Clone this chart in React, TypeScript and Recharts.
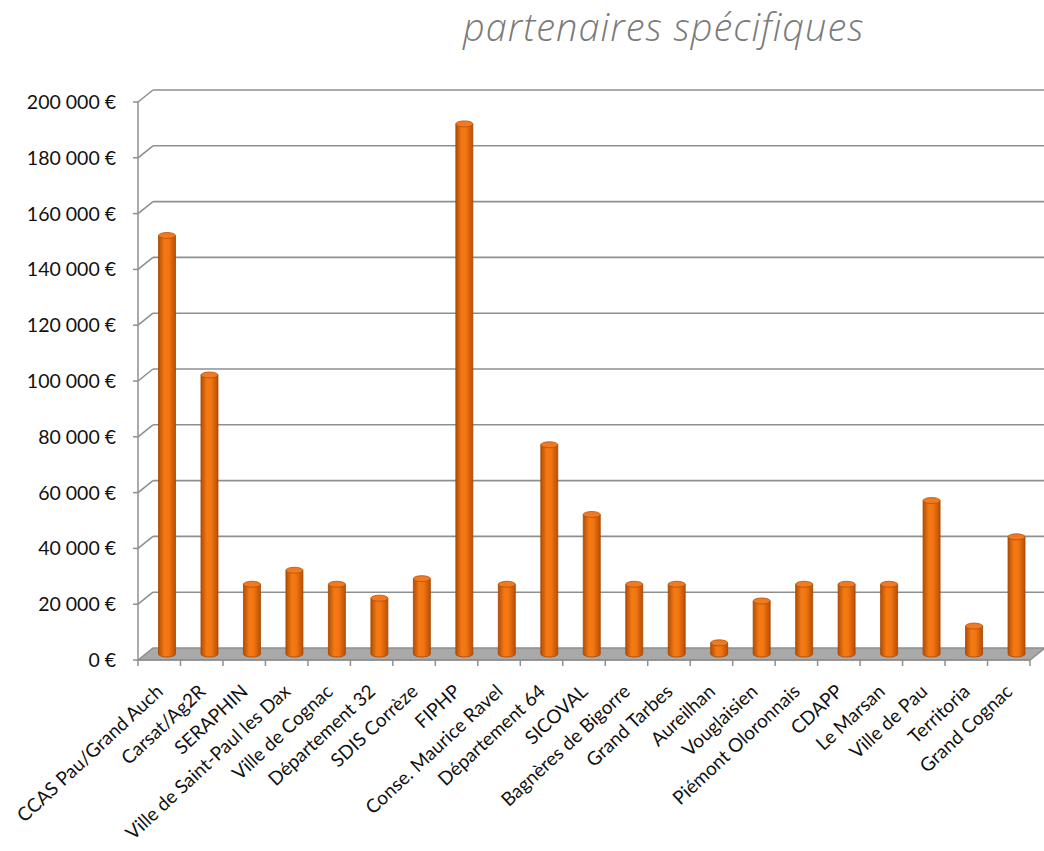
import { Bar, BarChart, CartesianGrid, XAxis, YAxis } from "recharts"

const categories = [
  "CCAS Pau/Grand Auch",
  "Carsat/Ag2R",
  "SERAPHIN",
  "Ville de Saint-Paul les Dax",
  "Ville de Cognac",
  "Département 32",
  "SDIS Corrèze",
  "FIPHP",
  "Conse. Maurice Ravel",
  "Département 64",
  "SICOVAL",
  "Bagnères de Bigorre",
  "Grand Tarbes",
  "Aureilhan",
  "Vouglaisien",
  "Piémont Oloronnais",
  "CDAPP",
  "Le  Marsan",
  "Ville de Pau",
  "Territoria",
  "Grand Cognac",
]

const amounts = [
  150000, 100000, 25000, 30000, 25000, 20000, 27000, 190000, 25000, 75000, 50000,
  25000, 25000, 4000, 19000, 25000, 25000, 25000, 55000, 10000, 42000,
]

const yTicks = [0, 20000, 40000, 60000, 80000, 100000, 120000, 140000, 160000, 180000, 200000]

const title = "partenaires spécifiques"

const data = categories.map((name, i) => ({ name, value: amounts[i] }))

// chart geometry
const W = 1044
const H = 851
const TOP = 102
const AXIS_W = 138
const XAXIS_H = 191
const RIGHT = 14
const PLOT_BOTTOM = H - XAXIS_H
const STEP = (W - AXIS_W - RIGHT) / categories.length
// fake 3d depth
const DX = 15
const DY = 12

const GRID = "#8f8f8f"
const FONT = "Lato, 'Open Sans', sans-serif"

function fmtEuro(v: number) {
  if (v === 0) return "0 €"
  return v.toLocaleString("en-US").replace(/,/g, " ") + " €"
}

function GridLine(props: any) {
  const { x1, y1, x2 } = props
  if (Math.abs(y1 - PLOT_BOTTOM) < 1) {
    const pts = `${x1},${y1} ${x1 + DX},${y1 - DY} ${x2 + DX},${y1 - DY} ${x2},${y1}`
    return <polygon key={props.key} points={pts} fill="#a9a9a9" stroke={GRID} strokeWidth={1.5} />
  }
  return (
    <g key={props.key}>
      <line x1={x1} y1={y1} x2={x1 + DX} y2={y1 - DY} stroke={GRID} strokeWidth={1.6} />
      <line x1={x1 + DX} y1={y1 - DY} x2={x2 + DX} y2={y1 - DY} stroke={GRID} strokeWidth={1.6} />
    </g>
  )
}

function Cylinder(props: any) {
  const { x, y, width, height } = props
  if (!width || height == null) return null
  const bx = x + DX / 2
  const by = y - DY / 2
  const ry = 3
  const cx = bx + width / 2
  return (
    <g>
      <path
        d={`M${bx},${by} L${bx},${by + height} A${width / 2},${ry} 0 0 0 ${bx + width},${by + height} L${bx + width},${by} Z`}
        fill="url(#cyl)"
        stroke="#a84600"
        strokeWidth={0.8}
      />
      <ellipse cx={cx} cy={by} rx={width / 2} ry={ry} fill="#ef7a22" stroke="#b84f05" strokeWidth={0.8} />
    </g>
  )
}

function XTick(props: any) {
  const { x, y, payload, index } = props
  const left = x - STEP / 2
  const ax = x + 5
  const ay = y + 33
  return (
    <g>
      <line x1={left} y1={y} x2={left} y2={y + 6} stroke={GRID} strokeWidth={1.5} />
      {index === categories.length - 1 && (
        <line x1={x + STEP / 2} y1={y} x2={x + STEP / 2} y2={y + 6} stroke={GRID} strokeWidth={1.5} />
      )}
      <text
        x={ax}
        y={ay}
        textAnchor="end"
        transform={`rotate(-43, ${ax}, ${ay})`}
        fontSize={19}
        fontFamily={FONT}
        fill="#111"
      >
        {payload.value}
      </text>
    </g>
  )
}

export default function App() {
  return (
    <div style={{ position: "absolute", left: 0, top: 0, width: W, height: H, background: "#fff", overflow: "hidden" }}>
      <div
        style={{
          position: "absolute",
          left: 463,
          top: 0,
          fontFamily: "'Open Sans', Lato, sans-serif",
          fontStyle: "italic",
          fontWeight: 300,
          fontSize: 38,
          letterSpacing: 1,
          color: "#7a7a7a",
          whiteSpace: "nowrap",
        }}
      >
        {title}
      </div>
      <BarChart width={W} height={H} data={data} margin={{ top: TOP, right: RIGHT, bottom: 0, left: 0 }}>
        <defs>
          <linearGradient id="cyl" x1="0" y1="0" x2="1" y2="0">
            <stop offset="0%" stopColor="#b34d05" />
            <stop offset="35%" stopColor="#f47a14" />
            <stop offset="60%" stopColor="#f27512" />
            <stop offset="100%" stopColor="#b84f05" />
          </linearGradient>
        </defs>
        <CartesianGrid vertical={false} horizontal={GridLine} />
        <XAxis
          dataKey="name"
          height={XAXIS_H}
          interval={0}
          tick={<XTick />}
          tickLine={false}
          tickSize={0}
          tickMargin={0}
          axisLine={{ stroke: GRID, strokeWidth: 1.5 }}
        />
        <YAxis
          width={AXIS_W}
          domain={[0, 200000]}
          ticks={yTicks}
          tickFormatter={fmtEuro}
          tick={{ fontSize: 19.5, fontFamily: FONT, fill: "#111" }}
          tickSize={5}
          tickMargin={17}
          tickLine={{ stroke: GRID, strokeWidth: 1.5 }}
          axisLine={{ stroke: GRID, strokeWidth: 1.5 }}
        />
        <Bar dataKey="value" barSize={17} shape={<Cylinder />} isAnimationActive={false} />
      </BarChart>
    </div>
  )
}
